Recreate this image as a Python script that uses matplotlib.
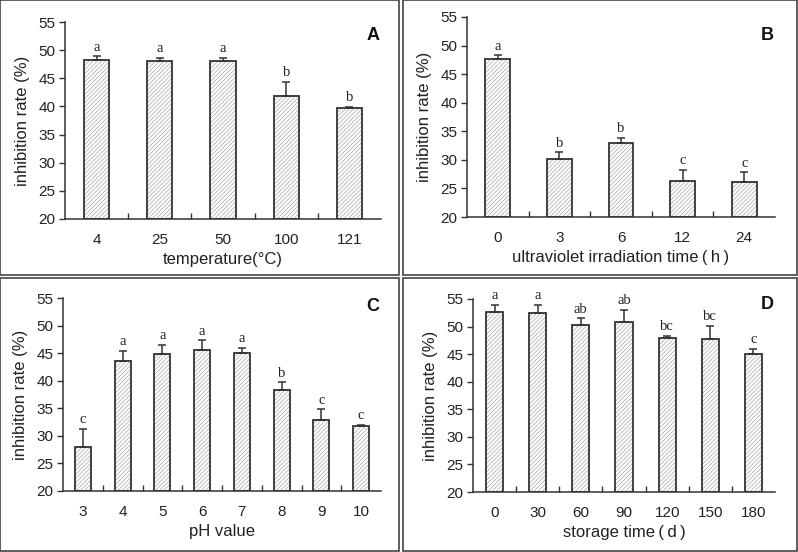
import matplotlib
matplotlib.use("Agg")
import matplotlib.pyplot as plt
from matplotlib.patches import Rectangle

plt.rcParams['font.family'] = ['Liberation Sans', 'DejaVu Sans']
plt.rcParams['hatch.linewidth'] = 0.5

W, H = 798, 552

# Panel A
temp_labels = ["4", "25", "50", "100", "121"]
temp_vals = [48.3, 48.1, 48.0, 41.8, 39.7]
temp_err = [0.6, 0.5, 0.6, 2.5, 0.25]
temp_sig = ["a", "a", "a", "b", "b"]

# Panel B
uv_labels = ["0", "3", "6", "12", "24"]
uv_vals = [47.6, 30.2, 32.9, 26.3, 26.2]
uv_err = [0.7, 1.1, 0.9, 1.9, 1.6]
uv_sig = ["a", "b", "b", "c", "c"]

# Panel C
ph_labels = ["3", "4", "5", "6", "7", "8", "9", "10"]
ph_vals = [28.0, 43.6, 44.9, 45.5, 45.0, 38.4, 32.9, 31.8]
ph_err = [3.2, 1.8, 1.6, 1.8, 0.9, 1.3, 1.9, 0.2]
ph_sig = ["c", "a", "a", "a", "a", "b", "c", "c"]

# Panel D
st_labels = ["0", "30", "60", "90", "120", "150", "180"]
st_vals = [52.7, 52.5, 50.3, 50.9, 48.0, 47.7, 45.1]
st_err = [1.2, 1.5, 1.2, 2.1, 0.3, 2.4, 0.9]
st_sig = ["a", "a", "ab", "ab", "bc", "bc", "c"]

panels = [
    dict(labels=temp_labels, vals=temp_vals, err=temp_err, sig=temp_sig,
         xlabel="temperature(\u00b0C)", tag="A", tag_y=0.934,
         ax_px=(65, 22, 381, 219), box_px=(0, 0, 399, 275)),
    dict(labels=uv_labels, vals=uv_vals, err=uv_err, sig=uv_sig,
         xlabel="ultraviolet irradiation time\u2009(\u2009h\u2009)", tag="B", tag_y=0.91,
         ax_px=(467, 17, 775, 217), box_px=(403, 0, 797, 275)),
    dict(labels=ph_labels, vals=ph_vals, err=ph_err, sig=ph_sig,
         xlabel="pH value", tag="C", tag_y=0.955,
         ax_px=(63, 298, 381, 491), box_px=(0, 278, 399, 551)),
    dict(labels=st_labels, vals=st_vals, err=st_err, sig=st_sig,
         xlabel="storage time\u2009(\u2009d\u2009)", tag="D", tag_y=0.97,
         ax_px=(473, 299, 775, 492), box_px=(403, 278, 797, 551)),
]

fig = plt.figure(figsize=(W / 100, H / 100), dpi=100)

edge = "#333333"
for p in panels:
    x0, y0, x1, y1 = p["ax_px"]
    ax = fig.add_axes([x0 / W, 1 - y1 / H, (x1 - x0) / W, (y1 - y0) / H])
    n = len(p["labels"])
    xs = list(range(n))
    bottoms = [20] * n
    heights = [v - 20 for v in p["vals"]]
    ax.bar(xs, heights, bottom=bottoms, width=0.4, color="white",
           edgecolor="#a8a8a8", hatch="////////", linewidth=0, zorder=2)
    ax.bar(xs, heights, bottom=bottoms, width=0.4, color="none",
           edgecolor=edge, linewidth=1.3, zorder=3)
    ax.errorbar(xs, p["vals"], yerr=[[0] * n, p["err"]], fmt="none",
                ecolor=edge, elinewidth=1.1, capsize=3, capthick=1.1, zorder=2.5)
    for x, v, e, s in zip(xs, p["vals"], p["err"], p["sig"]):
        ax.annotate(s, (x, v + e), xytext=(0, 2), textcoords="offset points",
                    ha="center", va="bottom", fontsize=10.5,
                    family=["Liberation Serif", "DejaVu Serif"], color="#222222")
    ax.set_xlim(-0.5, n - 0.5)
    ax.set_ylim(20, 55)
    ax.set_yticks(range(20, 56, 5))
    ax.set_xticks(xs)
    ax.set_xticklabels(p["labels"])
    ax.set_xticks([i + 0.5 for i in range(n - 1)], minor=True)
    ax.tick_params(axis="x", which="major", length=0, pad=10, labelsize=11,
                   colors="#222222")
    ax.tick_params(axis="x", which="minor", direction="in", length=4,
                   width=1, color=edge)
    ax.tick_params(axis="y", direction="out", length=4, width=1, color=edge,
                   labelsize=11, labelcolor="#222222", pad=3)
    for side in ("top", "right"):
        ax.spines[side].set_visible(False)
    for side in ("left", "bottom"):
        ax.spines[side].set_color(edge)
        ax.spines[side].set_linewidth(1.1)
    ax.set_ylabel("inhibition rate (%)", fontsize=12, color="#222222", labelpad=6)
    ax.set_xlabel(p["xlabel"], fontsize=12, color="#222222", labelpad=4)
    ax.text(0.995, p["tag_y"], p["tag"], transform=ax.transAxes, ha="right",
            va="center", fontsize=13, fontweight="bold", color="#111111")
    bx0, by0, bx1, by1 = p["box_px"]
    fig.patches.append(Rectangle((bx0 / W, 1 - by1 / H), (bx1 - bx0) / W,
                                 (by1 - by0) / H, transform=fig.transFigure,
                                 fill=False, edgecolor="#444444", linewidth=1.2))

fig.savefig("out.png", dpi=100)
